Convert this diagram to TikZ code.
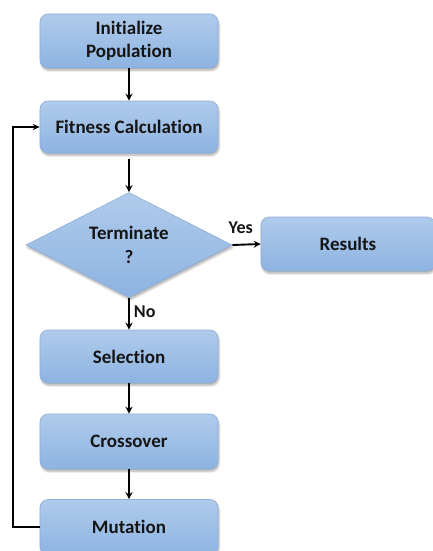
\documentclass[tikz,border=0pt]{standalone}
\usepackage{fontspec}
\setmainfont[Ligatures={NoCommon}]{Carlito}
\usetikzlibrary{shapes.geometric,arrows.meta,shadows.blur}
\definecolor{boxtop}{HTML}{B0CBEB}
\definecolor{boxbot}{HTML}{8DB3E2}
\definecolor{boxline}{HTML}{8EACD6}
\definecolor{txt}{HTML}{151515}
\tikzset{
  stepbox/.style={rectangle, rounded corners=8pt, draw=boxline, line width=0.6pt,
    top color=boxtop, bottom color=boxbot, minimum width=178pt, inner sep=0pt,
    align=center, font=\fontsize{19}{23}\selectfont\bfseries, text=txt,
    blur shadow={shadow xshift=1pt, shadow yshift=-2.5pt, shadow blur steps=5, shadow opacity=30}},
  decbox/.style={diamond, aspect=1.96, draw=boxline, line width=0.6pt,
    top color=boxtop, bottom color=boxbot, minimum width=206pt, minimum height=105pt,
    inner sep=0pt, align=center, font=\fontsize{19}{24}\selectfont\bfseries, text=txt,
    blur shadow={shadow xshift=1pt, shadow yshift=-2.5pt, shadow blur steps=5, shadow opacity=30}},
  conn/.style={line width=1.9pt, -{Stealth[length=7pt,width=7pt]}},
  lbl/.style={font=\fontsize{18}{20}\selectfont\bfseries, text=txt, inner sep=0pt}
}
\begin{document}
\begin{tikzpicture}[x=1pt,y=-1pt]
\useasboundingbox (0,0) rectangle (433,551);
\node[stepbox, minimum height=54pt] (init) at (129,41) {Initialize\\Population};
\node[stepbox, minimum height=52pt] (fit) at (129,127) {Fitness Calculation};
\node[decbox] (term) at (129,245) {Terminate\\?};
\node[stepbox, minimum width=174pt, minimum height=54pt] (res) at (348,244) {Results};
\node[stepbox, minimum height=53pt] (sel) at (129,356.5) {Selection};
\node[stepbox, minimum height=55pt] (cro) at (129,441.5) {Crossover};
\node[stepbox, minimum height=55pt] (mut) at (129,527) {Mutation};
\coordinate (lx) at (13,0);
\draw[conn] (init.south) -- (fit.north);
\draw[conn] ([yshift=-6pt]fit.south) -- (term.north);
\draw[conn] (term.east) -- node[lbl, above=10pt, pos=0.3]{Yes} (res.west);
\draw[conn] (term.south) -- node[lbl, right=4pt, pos=0.45]{No} (sel.north);
\draw[conn] (sel.south) -- (cro.north);
\draw[conn] (cro.south) -- (mut.north);
\draw[line width=1.4pt, -{Stealth[length=7pt,width=6pt]}] (mut.west) -- (lx |- mut.west) -- (lx |- fit.west) -- (fit.west);
\end{tikzpicture}
\end{document}
